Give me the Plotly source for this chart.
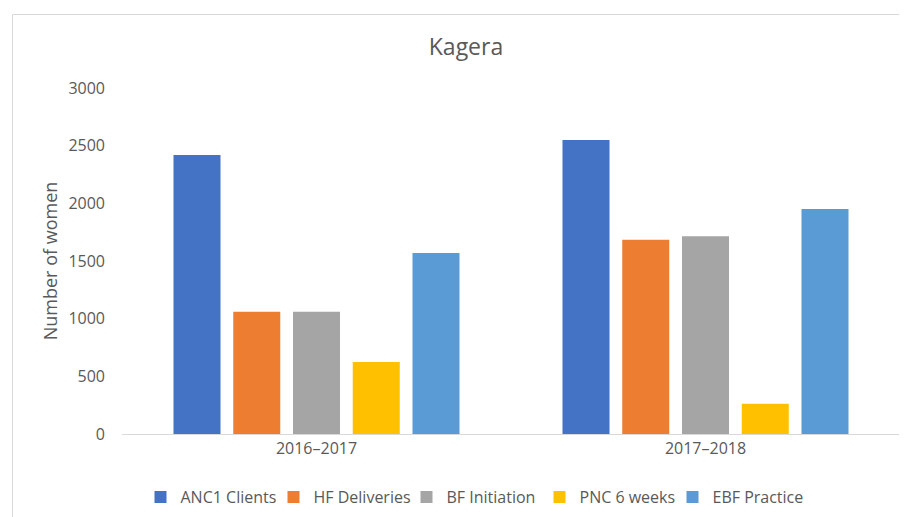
import plotly.graph_objects as go

periods = ["2016–2017", "2017–2018"]
series_names = ["ANC1 Clients", "HF Deliveries", "BF Initiation", "PNC 6 weeks", "EBF Practice"]
anc1 = [2420, 2550]
hf_deliveries = [1060, 1685]
bf_initiation = [1060, 1715]
pnc_6_weeks = [625, 262]
ebf_practice = [1570, 1950]
colors = ["#4472C4", "#ED7D31", "#A5A5A5", "#FFC000", "#5B9BD5"]
y_ticks = [0, 500, 1000, 1500, 2000, 2500, 3000]

values = [anc1, hf_deliveries, bf_initiation, pnc_6_weeks, ebf_practice]

fig = go.Figure()
for name, vals, col in zip(series_names, values, colors):
    fig.add_trace(go.Bar(x=periods, y=vals, name=name, marker_color=col,
                         marker_line_width=0))

# page has an 8px body margin, so figure is 899x509 and coordinates are shifted by 8
W, H = 899, 509
L, R, T, B = 114, 7, 80, 83
pw, ph = W - L - R, H - T - B
base = H - B  # y of plot bottom in figure px

def px_x(x):
    return (x - L) / pw

def px_y(y):
    return (base - y) / ph

fig.update_layout(
    width=W, height=H,
    margin=dict(l=L, r=R, t=T, b=B, autoexpand=False),
    paper_bgcolor="white", plot_bgcolor="white",
    font=dict(family="Open Sans, Liberation Sans, sans-serif", color="#595959", size=16),
    title=dict(text="Kagera", x=px_x(458), xref="paper", xanchor="center",
               y=1 - 39 / H, yanchor="middle", font=dict(size=23, color="#595959")),
    barmode="group", bargap=0.232, bargroupgap=0.213,
    showlegend=True,
    legend=dict(orientation="h", x=px_x(465), xanchor="center",
                y=px_y(489), yanchor="middle", font=dict(size=16, color="#595959"),
                traceorder="normal", itemwidth=30, entrywidth=88,
                entrywidthmode="pixels"),
    xaxis=dict(showline=True, linecolor="#D9D9D9", linewidth=1, showgrid=False,
               ticks="", automargin=False, tickfont=dict(size=16, color="#595959")),
    yaxis=dict(range=[0, 3000], tickvals=y_ticks, showgrid=False, zeroline=False,
               showline=False, ticks="", ticklabelstandoff=16, automargin=False,
               tickfont=dict(size=16, color="#595959"),
               title=dict(text="Number of women", standoff=6,
                          font=dict(size=18, color="#595959"))),
    shapes=[
        dict(type="line", xref="paper", yref="paper",
             x0=px_x(4.5), x1=px_x(W + 5), y0=px_y(6.5), y1=px_y(6.5),
             line=dict(color="#D9D9D9", width=1)),
        dict(type="line", xref="paper", yref="paper",
             x0=px_x(4.5), x1=px_x(4.5), y0=px_y(6.5), y1=px_y(H + 5),
             line=dict(color="#D9D9D9", width=1)),
    ],
)

fig.write_html("out.html")
